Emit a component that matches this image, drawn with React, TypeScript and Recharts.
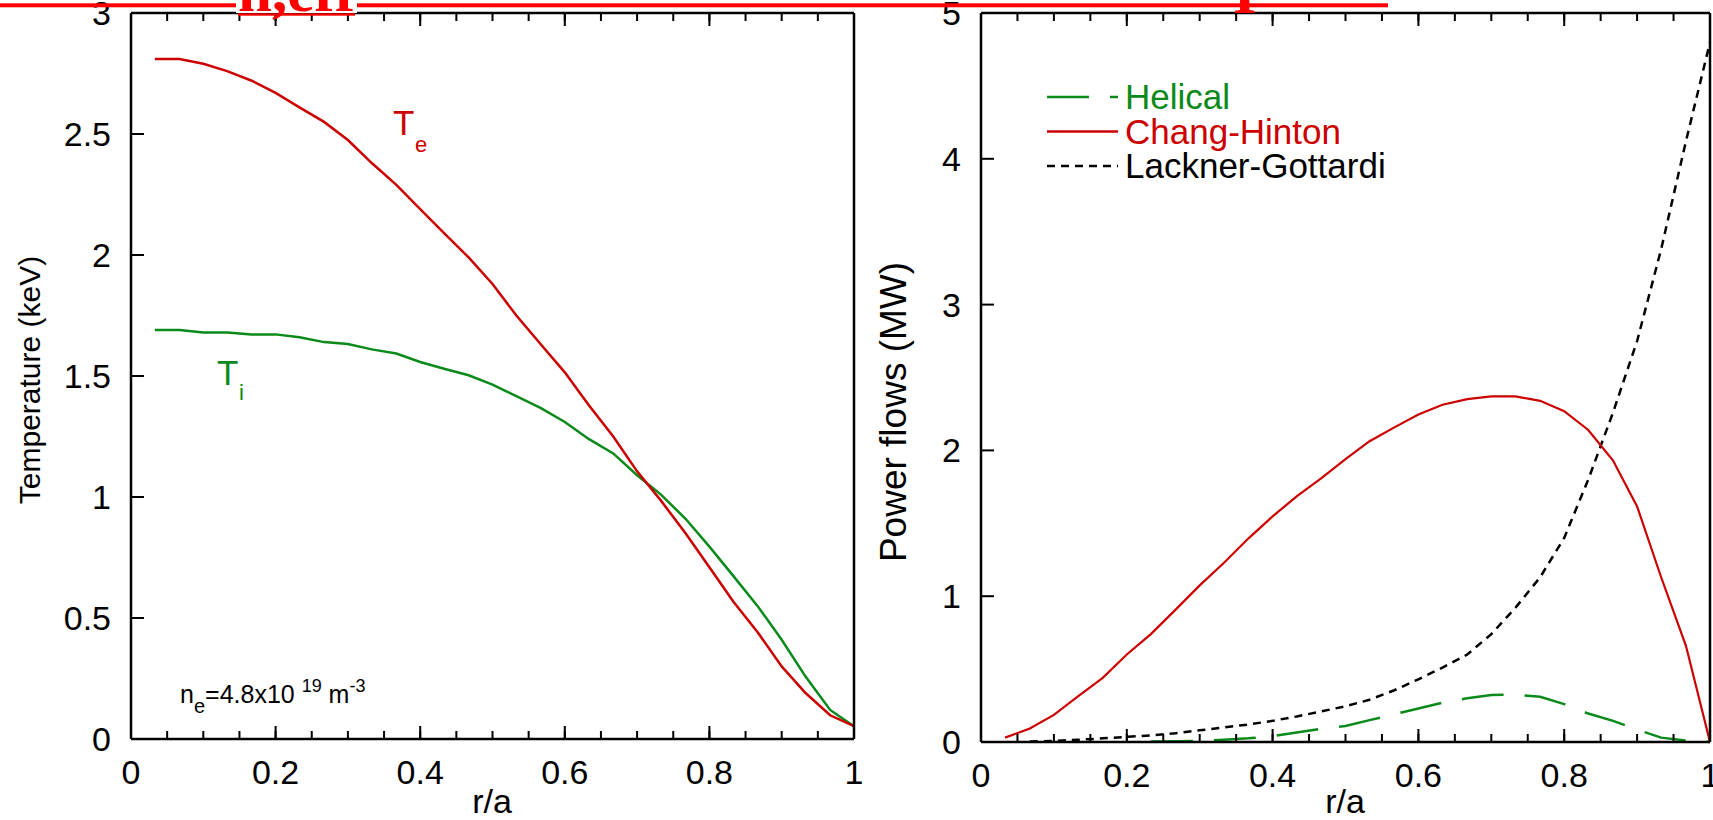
import React from "react";
import { LineChart, Line, XAxis, YAxis, Legend } from "recharts";

// r/a grid shared by all profiles
const rOverA = [
  0.033, 0.067, 0.1, 0.133, 0.167, 0.2, 0.233, 0.267, 0.3, 0.333, 0.367, 0.4, 0.433, 0.467, 0.5,
  0.533, 0.567, 0.6, 0.633, 0.667, 0.7, 0.733, 0.767, 0.8, 0.833, 0.867, 0.9, 0.933, 0.967, 1.0,
];

// left panel: temperatures (keV)
const teKeV = [
  2.81, 2.81, 2.79, 2.76, 2.72, 2.67, 2.61, 2.55, 2.475, 2.38, 2.29, 2.19, 2.09, 1.99, 1.88,
  1.75, 1.63, 1.515, 1.38, 1.25, 1.106, 0.985, 0.85, 0.71, 0.568, 0.44, 0.3, 0.19, 0.098, 0.053,
];
const tiKeV = [
  1.69, 1.69, 1.68, 1.68, 1.672, 1.672, 1.66, 1.64, 1.632, 1.61, 1.593, 1.558, 1.53, 1.503, 1.464,
  1.417, 1.367, 1.31, 1.24, 1.18, 1.09, 1.01, 0.91, 0.795, 0.674, 0.548, 0.41, 0.258, 0.12, 0.053,
];

// right panel: power flows (MW)
const helicalMW = [
  null, null, null, null, null, null, 0.003, 0.005, 0.008, 0.015, 0.025, 0.04, 0.065, 0.09, 0.11,
  0.15, 0.19, 0.23, 0.27, 0.3, 0.322, 0.325, 0.31, 0.26, 0.195, 0.145, 0.085, 0.03, 0.01, 0.0,
];
const changHintonMW = [
  0.03, 0.093, 0.186, 0.313, 0.44, 0.6, 0.74, 0.908, 1.074, 1.228, 1.397, 1.547, 1.685, 1.81, 1.94,
  2.063, 2.158, 2.246, 2.313, 2.352, 2.37, 2.37, 2.34, 2.269, 2.14, 1.93, 1.616, 1.13, 0.66, 0.0,
];
const lacknerGottardiMW = [
  null, 0.003, 0.008, 0.015, 0.025, 0.035, 0.045, 0.06, 0.08, 0.1, 0.12, 0.145, 0.175, 0.21, 0.245,
  0.29, 0.355, 0.43, 0.51, 0.6, 0.74, 0.92, 1.13, 1.4, 1.8, 2.26, 2.75, 3.38, 4.12, 4.8,
];

// ticks
const xMinor = [
  0, 0.05, 0.1, 0.15, 0.2, 0.25, 0.3, 0.35, 0.4, 0.45, 0.5, 0.55, 0.6, 0.65, 0.7, 0.75, 0.8, 0.85,
  0.9, 0.95, 1,
];
const xMajor = [0, 0.2, 0.4, 0.6, 0.8, 1];
const xLabels = ["0", "0.2", "0.4", "0.6", "0.8", "1"];

const tempMinor = [
  0, 0.1, 0.2, 0.3, 0.4, 0.5, 0.6, 0.7, 0.8, 0.9, 1, 1.1, 1.2, 1.3, 1.4, 1.5, 1.6, 1.7, 1.8, 1.9, 2,
  2.1, 2.2, 2.3, 2.4, 2.5, 2.6, 2.7, 2.8, 2.9, 3,
];
const tempMajor = [0, 0.5, 1, 1.5, 2, 2.5, 3];
const tempLabels = ["0", "0.5", "1", "1.5", "2", "2.5", "3"];

const powerMinor = [
  0, 0.2, 0.4, 0.6, 0.8, 1, 1.2, 1.4, 1.6, 1.8, 2, 2.2, 2.4, 2.6, 2.8, 3, 3.2, 3.4, 3.6, 3.8, 4,
  4.2, 4.4, 4.6, 4.8, 5,
];
const powerMajor = [0, 1, 2, 3, 4, 5];
const powerLabels = ["0", "1", "2", "3", "4", "5"];

const legendItems = [
  { name: "Helical", color: "#0a8a1a", dash: "42 21" },
  { name: "Chang-Hinton", color: "#cc0000", dash: undefined },
  { name: "Lackner-Gottardi", color: "#000000", dash: "8 6" },
];

const RED = "#cc0000";
const GREEN = "#0a8a1a";
const FONT = "'Liberation Sans', Arial, Helvetica, sans-serif";
const SERIF = "'Liberation Serif', 'Times New Roman', serif";

const tempData = rOverA.map((x, i) => ({ x, te: teKeV[i], ti: tiKeV[i] }));
const powerData = rOverA.map((x, i) => ({
  x,
  helical: helicalMW[i],
  ch: changHintonMW[i],
  lg: lacknerGottardiMW[i],
}));

const MAJOR = 13;
const MINOR = 7;
const axisStyle = { stroke: "#000", strokeWidth: 2.5 };
const tickStyle = { stroke: "#000", strokeWidth: 2 };

const labelFor = (v: number, majors: number[], labels: string[]) => {
  const i = majors.findIndex((m) => Math.abs(m - v) < 1e-6);
  return i >= 0 ? labels[i] : "";
};

// mirrored (inward) ticks put the label anchor inside the frame, so push it back out
const bottomLabel = (props: any) => (
  <text x={props.x} y={props.y + MAJOR + 45} textAnchor="middle" fontSize={34} fontFamily={FONT} fill="#000">
    {labelFor(props.payload.value, xMajor, xLabels)}
  </text>
);
const leftLabel = (majors: number[], labels: string[]) => (props: any) => (
  <text x={props.x - MAJOR - 20} y={props.y + 12} textAnchor="end" fontSize={34} fontFamily={FONT} fill="#000">
    {labelFor(props.payload.value, majors, labels)}
  </text>
);
const noLabel = () => <g />;

// full box of inward ticks: major + minor axis on every side
function frameAxes(yDomain: number[], yMinor: number[], yMajor: number[], yLabels: string[]) {
  const common = { type: "number" as const, interval: 0, tickMargin: 0, mirror: true };
  return [
    <XAxis key="b" xAxisId="b" dataKey="x" domain={[0, 1]} ticks={xMajor} height={1} tickSize={MAJOR}
      stroke="#000" tickLine={tickStyle} axisLine={axisStyle} tick={bottomLabel} {...common} />,
    <XAxis key="bm" xAxisId="bm" dataKey="x" domain={[0, 1]} ticks={xMinor} height={1} tickSize={MINOR}
      stroke="#000" tickLine={tickStyle} axisLine={false} tick={noLabel} {...common} />,
    <XAxis key="t" xAxisId="t" dataKey="x" orientation="top" domain={[0, 1]} ticks={xMajor} height={1} tickSize={MAJOR}
      stroke="#000" tickLine={tickStyle} axisLine={axisStyle} tick={noLabel} {...common} />,
    <XAxis key="tm" xAxisId="tm" dataKey="x" orientation="top" domain={[0, 1]} ticks={xMinor} height={1} tickSize={MINOR}
      stroke="#000" tickLine={tickStyle} axisLine={false} tick={noLabel} {...common} />,
    <YAxis key="l" yAxisId="l" domain={yDomain} ticks={yMajor} width={1} tickSize={MAJOR}
      stroke="#000" tickLine={tickStyle} axisLine={axisStyle} tick={leftLabel(yMajor, yLabels)} {...common} />,
    <YAxis key="lm" yAxisId="lm" domain={yDomain} ticks={yMinor} width={1} tickSize={MINOR}
      stroke="#000" tickLine={tickStyle} axisLine={false} tick={noLabel} {...common} />,
    <YAxis key="r" yAxisId="r" orientation="right" domain={yDomain} ticks={yMajor} width={1} tickSize={MAJOR}
      stroke="#000" tickLine={tickStyle} axisLine={axisStyle} tick={noLabel} {...common} />,
    <YAxis key="rm" yAxisId="rm" orientation="right" domain={yDomain} ticks={yMinor} width={1} tickSize={MINOR}
      stroke="#000" tickLine={tickStyle} axisLine={false} tick={noLabel} {...common} />,
  ];
}

function PowerLegend() {
  return (
    <svg width={320} height={110} style={{ overflow: "visible" }}>
      {legendItems.map((item, i) => {
        const cy = 22 + i * 34.5;
        return (
          <g key={item.name}>
            <line x1={0} y1={cy} x2={71} y2={cy} stroke={item.color} strokeWidth={2.5} strokeDasharray={item.dash} />
            <text x={78} y={cy + 12} fontSize={35} fontFamily={FONT} fill={item.color}>
              {item.name}
            </text>
          </g>
        );
      })}
    </svg>
  );
}

export default function App() {
  return (
    <div style={{ position: "absolute", left: 0, top: 0, width: 1713, height: 820, background: "#fff", overflow: "hidden" }}>
      <div style={{ position: "absolute", left: 0, top: 0 }}>
        <LineChart width={900} height={820} data={tempData} margin={{ top: 13, left: 131, right: 46, bottom: 81 }}>
          {frameAxes([0, 3], tempMinor, tempMajor, tempLabels)}
          <Line xAxisId="b" yAxisId="l" type="linear" dataKey="ti" stroke={GREEN} strokeWidth={2.5} dot={false} isAnimationActive={false} />
          <Line xAxisId="b" yAxisId="l" type="linear" dataKey="te" stroke={RED} strokeWidth={2.5} dot={false} isAnimationActive={false} />
        </LineChart>
      </div>

      <div style={{ position: "absolute", left: 900, top: 0 }}>
        <LineChart width={813} height={820} data={powerData} margin={{ top: 13, left: 81, right: 3, bottom: 78 }}>
          {frameAxes([0, 5], powerMinor, powerMajor, powerLabels)}
          <Legend layout="vertical" align="center" verticalAlign="middle"
            wrapperStyle={{ position: "absolute", left: 147, top: 75, width: 320, height: 110 }}
            content={() => <PowerLegend />} />
          <Line xAxisId="b" yAxisId="l" type="linear" dataKey="lg" stroke="#000" strokeWidth={2.5} strokeDasharray="8 6" dot={false} isAnimationActive={false} />
          <Line xAxisId="b" yAxisId="l" type="linear" dataKey="helical" stroke={GREEN} strokeWidth={2.5} strokeDasharray="42 21" dot={false} isAnimationActive={false} />
          <Line xAxisId="b" yAxisId="l" type="linear" dataKey="ch" stroke={RED} strokeWidth={2.2} dot={false} isAnimationActive={false} />
        </LineChart>
      </div>

      <svg width={1713} height={820} style={{ position: "absolute", left: 0, top: 0, pointerEvents: "none" }}>
        {/* red banner cut off at the top of the page */}
        <rect x={0} y={3.3} width={1388} height={4} fill="#ff0000" />
        <rect x={236} y={0} width={121} height={13} fill="#fff" />
        <text x={238} y={11} fontSize={60} fontWeight="bold" fontFamily={SERIF} fill="#ff0000" textLength={117} lengthAdjust="spacingAndGlyphs">
          n,eff
        </text>
        <rect x={238} y={13.3} width={117} height={2.4} fill="#ff0000" />
        <text x={1233} y={13} fontSize={60} fontWeight="bold" fontFamily={SERIF} fill="#ff0000">
          I
        </text>

        {/* axis titles */}
        <text transform="translate(30,380) rotate(-90)" y={10} textAnchor="middle" fontSize={30} fontFamily={FONT} fill="#000">
          Temperature (keV)
        </text>
        <text transform="translate(894,412) rotate(-90)" y={12} textAnchor="middle" fontSize={37} fontFamily={FONT} fill="#000">
          Power flows (MW)
        </text>
        <text x={492} y={813} textAnchor="middle" fontSize={34} fontFamily={FONT} fill="#000">r/a</text>
        <text x={1345} y={813} textAnchor="middle" fontSize={34} fontFamily={FONT} fill="#000">r/a</text>

        {/* curve labels */}
        <text x={393} y={135} fontSize={35} fontFamily={FONT} fill={RED}>T</text>
        <text x={415} y={152} fontSize={22} fontFamily={FONT} fill={RED}>e</text>
        <text x={217} y={385} fontSize={35} fontFamily={FONT} fill={GREEN}>T</text>
        <text x={239} y={400} fontSize={22} fontFamily={FONT} fill={GREEN}>i</text>

        {/* density annotation */}
        <text x={180} y={703} fontSize={25} fontFamily={FONT} fill="#000">
          n
          <tspan dy={10} fontSize={20}>e</tspan>
          <tspan dy={-10} fontSize={25}>=4.8x10 </tspan>
          <tspan dy={-11} fontSize={18}>19</tspan>
          <tspan dy={11} fontSize={25}> m</tspan>
          <tspan dy={-11} fontSize={18}>-3</tspan>
        </text>
      </svg>
    </div>
  );
}
